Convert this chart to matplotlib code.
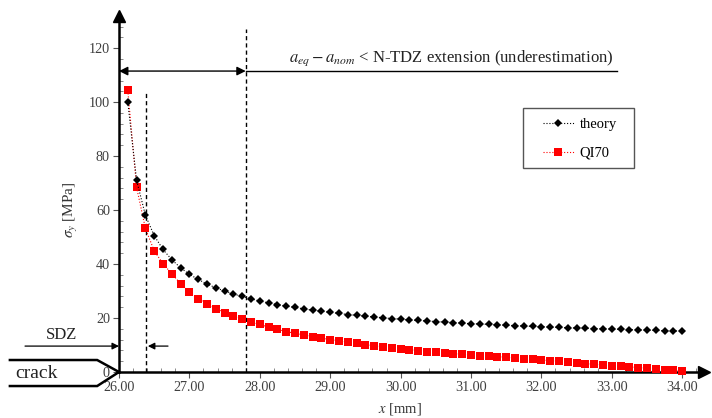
import numpy as np
import matplotlib
matplotlib.use('Agg')
import matplotlib.pyplot as plt
from matplotlib.patches import Rectangle

plt.rcParams['font.family'] = ['Liberation Serif', 'DejaVu Serif']
plt.rcParams['mathtext.fontset'] = 'stix'

# x positions of the samples [mm], one every 0.125 mm
x_mm = np.linspace(26.125, 34.0, 64)

theory = [100.0, 71.0, 58.1, 50.5, 45.4, 41.6, 38.6, 36.2,
          34.3, 32.6, 31.2, 30.0, 28.9, 28.0, 27.1, 26.3,
          25.6, 25.0, 24.4, 23.9, 23.4, 22.9, 22.5, 22.1,
          21.7, 21.3, 21.0, 20.7, 20.4, 20.1, 19.8, 19.6,
          19.3, 19.1, 18.9, 18.7, 18.5, 18.3, 18.1, 17.9,
          17.8, 17.6, 17.5, 17.3, 17.2, 17.0, 16.9, 16.8,
          16.6, 16.5, 16.4, 16.3, 16.2, 16.1, 16.0, 15.9,
          15.8, 15.7, 15.6, 15.5, 15.4, 15.3, 15.2, 15.2]

qi70 = [104.3, 68.4, 53.2, 44.9, 40.1, 36.4, 32.7, 29.6,
        27.2, 25.2, 23.5, 22.0, 20.7, 19.5, 18.6, 17.6,
        16.7, 15.8, 15.0, 14.3, 13.7, 13.1, 12.5, 12.0,
        11.5, 11.0, 10.6, 10.1, 9.7, 9.3, 8.9, 8.6,
        8.3, 7.9, 7.5, 7.3, 7.0, 6.8, 6.5, 6.3,
        6.1, 5.9, 5.7, 5.4, 5.2, 4.9, 4.7, 4.4,
        4.2, 3.9, 3.6, 3.3, 3.1, 2.8, 2.6, 2.3,
        2.1, 1.9, 1.6, 1.4, 1.1, 0.9, 0.6, 0.3]

x_ticks = [26, 27, 28, 29, 30, 31, 32, 33, 34]
y_ticks = [0, 20, 40, 60, 80, 100, 120]

sdz_x = 26.38      # end of SDZ
ntdz_x = 27.8      # end of N-TDZ extension

fig = plt.figure(figsize=(7.12, 4.18), dpi=100)
ax = fig.add_axes([119/712, 46/418, 585/712, 356/418])
ax.set_xlim(26, 34.31)
ax.set_ylim(0, 131.9)

for s in ['top', 'right']:
    ax.spines[s].set_visible(False)
for s in ['left', 'bottom']:
    ax.spines[s].set_linewidth(1.8)

# axis arrow heads
ax.plot([0], [1], marker='^', ms=9, color='k', transform=ax.transAxes, clip_on=False)
ax.plot([1], [0], marker='>', ms=9, color='k', transform=ax.transAxes, clip_on=False)

ax.set_xticks(x_ticks)
ax.set_xticklabels(['%.2f' % v for v in x_ticks])
ax.set_xticks(np.arange(26, 34.3, 0.2), minor=True)
ax.set_yticks(y_ticks)
ax.set_yticks(np.arange(0, 130, 4), minor=True)
ax.tick_params(which='major', direction='out', length=4.5, width=0.8, color='#555555',
               labelcolor='#404040', labelsize=10.2, pad=2)
ax.tick_params(which='minor', direction='in', length=3, width=0.6, color='#777777')

ax.set_xlabel(r'$x$ [mm]', fontsize=10.5, color='#333333')
ax.xaxis.set_label_coords(0.48, -0.081)
ax.set_ylabel(r'$\sigma_y$ [MPa]', fontsize=11, color='#333333')
ax.yaxis.set_label_coords(-0.067, 0.455)

# data
ax.plot(x_mm, theory, color='k', ls=':', lw=0.8, marker='D', ms=3.6, mew=0,
        label='theory', clip_on=False, zorder=4)
ax.plot(x_mm, qi70, color='#ff0000', ls=':', lw=0.8, marker='s', ms=5.6, mew=0,
        label='QI70', clip_on=False, zorder=3)

# zone markers
ax.plot([sdz_x, sdz_x], [0, 103.6], color='k', ls=(0, (3, 2.2)), lw=1)
ax.plot([ntdz_x, ntdz_x], [0, 127], color='k', ls=(0, (3, 2.2)), lw=1)

ax.annotate('', xy=(26.0, 111.5), xytext=(ntdz_x, 111.5),
            arrowprops=dict(arrowstyle='<|-|>', lw=1, color='k', shrinkA=0, shrinkB=0,
                            mutation_scale=13))
ax.plot([ntdz_x, 33.07], [111.5, 111.5], color='k', lw=1)
ax.text(33.03, 112.8, r'$a_{eq} - a_{nom}$ < N-TDZ extension (underestimation)',
        ha='right', va='bottom', fontsize=12, color='#222222')

# SDZ arrows
ax.annotate('', xy=(26.0, 9.6), xytext=(24.665, 9.6), annotation_clip=False,
            arrowprops=dict(arrowstyle='-|>', lw=0.9, color='k', shrinkA=0, shrinkB=0,
                            mutation_scale=10))
ax.annotate('', xy=(sdz_x + 0.03, 9.6), xytext=(26.696, 9.6), annotation_clip=False,
            arrowprops=dict(arrowstyle='-|>', lw=0.9, color='k', shrinkA=0, shrinkB=0,
                            mutation_scale=10))
ax.text(25.19, 13.7, 'SDZ', ha='center', va='center', fontsize=12, color='#222222')

# crack sketch
ax.plot([24.45, 25.69, 26.0], [4.44, 4.44, 0], color='k', lw=1.8, clip_on=False,
        solid_joinstyle='miter')
ax.plot([24.45, 25.69, 26.0], [-5.2, -5.2, 0], color='k', lw=1.8, clip_on=False,
        solid_joinstyle='miter')
ax.text(24.52, -0.4, 'crack', ha='left', va='center', fontsize=14, color='#222222')

# legend
ax.add_patch(Rectangle((0.6906, 0.573), 0.1897, 0.1685, transform=ax.transAxes,
                       fill=False, ec='#555555', lw=1, clip_on=False))
ax.legend(loc='upper left', bbox_to_anchor=(0.7248, 0.715), frameon=False,
          borderpad=0, borderaxespad=0, handlelength=2.1, handletextpad=0.4,
          labelspacing=1.1, fontsize=10.5)

plt.savefig('out.png', dpi=100)
